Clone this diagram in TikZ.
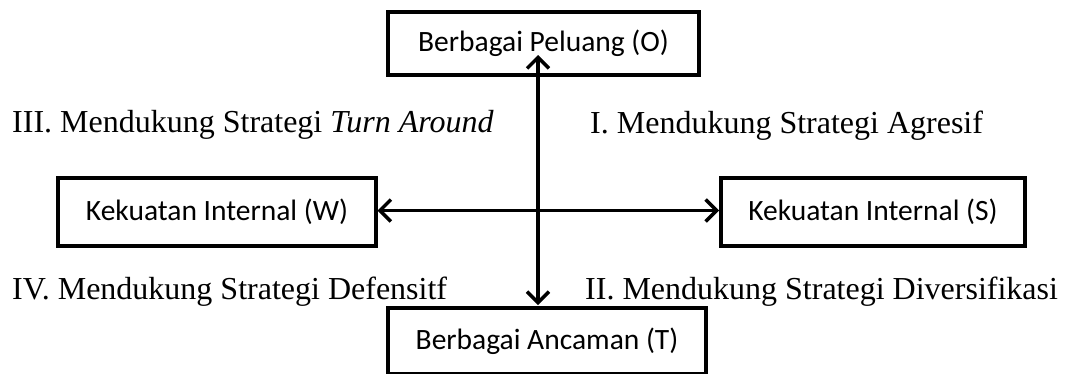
\documentclass[tikz,border=0pt]{standalone}
\usepackage{fontspec}
\setmainfont{Liberation Serif}
\newfontfamily\boxfont{Carlito}
\usetikzlibrary{arrows.meta}
\tikzset{
  boxnode/.style={draw=black, line width=4.5pt, fill=white, font=\boxfont\fontsize{29.5}{34}\selectfont, inner sep=0pt, align=center},
  quadlabel/.style={anchor=base west, inner sep=0pt, font=\fontsize{32}{38}\selectfont},
  barbtip/.tip={Straight Barb[length=11pt,width=22pt,line width=3.5pt]},
  axis/.style={line width=3.5pt, {barbtip}-{barbtip}}
}
\begin{document}
\begin{tikzpicture}[x=1pt,y=-1pt]
\useasboundingbox (0,0) rectangle (1068,373);
\node[boxnode, minimum width=311pt, minimum height=63pt] (O) at (543.5,43.5) {Berbagai Peluang (O)};
\node[boxnode, minimum width=318pt, minimum height=68pt] (W) at (217,212) {Kekuatan Internal (W)};
\node[boxnode, minimum width=304pt, minimum height=68pt] (S) at (873,212) {Kekuatan Internal (S)};
\node[boxnode, minimum width=318pt, minimum height=66pt] (T) at (547,341) {Berbagai Ancaman (T)};
\node[quadlabel] (q3) at (12,132) {III. Mendukung Strategi \textit{Turn Around}};
\node[quadlabel] (q1) at (590,133) {I. Mendukung Strategi Agresif};
\node[quadlabel] (q4) at (12,299) {IV. Mendukung Strategi Defensitf};
\node[quadlabel] (q2) at (585,299) {II. Mendukung Strategi Diversifikasi};
\coordinate (vt) at (538,55);
\coordinate (vb) at (538,305);
\coordinate (hl) at (377.5,210.5);
\coordinate (hr) at (719,210.5);
\draw[axis] (vt) -- (vb);
\draw[axis] (hl) -- (hr);
\end{tikzpicture}
\end{document}
